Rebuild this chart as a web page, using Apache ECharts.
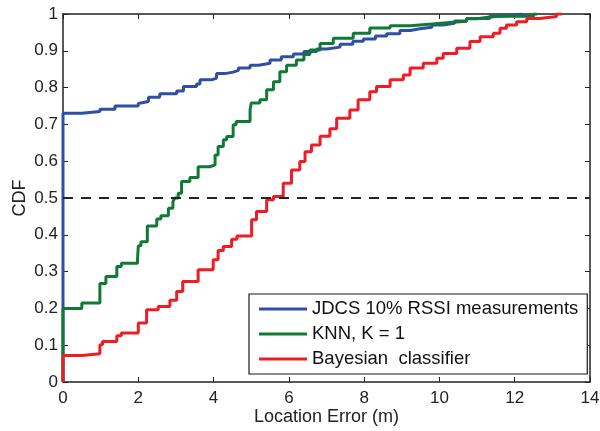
<!DOCTYPE html>
<html>
<head>
<meta charset="utf-8">
<script src="https://cdn.jsdelivr.net/npm/echarts@6/dist/echarts.min.js"></script>
<style>html,body{margin:0;padding:0;background:#fff}#c{width:600px;height:431px}</style>
</head>
<body>
<div id="c"></div>
<script>
var seriesNames = ['JDCS 10% RSSI measurements', 'KNN, K = 1', 'Bayesian  classifier'];
var xTicks = {min: 0, max: 14, interval: 2};
var yTicks = {min: 0, max: 1, interval: 0.1};
var refLevel = 0.5;

var jdcsCdf = [[0,0],[0,0.730],[0.5,0.735],[0.98,0.741],[1.38,0.750],[2.0,0.757],[2.05,0.762],[2.27,0.774],[2.57,0.783],[3.02,0.791],[3.2,0.803],[3.55,0.810],[3.64,0.821],[3.95,0.826],[4.08,0.838],[4.3,0.842],[4.52,0.847],[4.66,0.853],[4.97,0.861],[5.2,0.866],[5.5,0.875],[5.8,0.884],[6.12,0.891],[6.4,0.898],[6.74,0.905],[7.0,0.910],[7.36,0.918],[7.7,0.926],[7.98,0.932],[8.3,0.940],[8.6,0.946],[8.95,0.955],[9.22,0.960],[9.48,0.964],[9.8,0.970],[10.1,0.975],[10.4,0.981],[10.72,0.987],[11.0,0.992],[11.34,0.996],[11.9,1.0],[12.2,1.0]];

var knnCdf = [[0,0],[0,0.200],[0.5,0.215],[0.98,0.268],[1.14,0.287],[1.43,0.314],[1.55,0.323],[1.98,0.335],[2.0,0.370],[2.07,0.381],[2.24,0.424],[2.49,0.443],[2.6,0.452],[2.8,0.472],[2.92,0.490],[2.97,0.500],[3.06,0.513],[3.15,0.545],[3.37,0.556],[3.59,0.585],[3.9,0.590],[4.04,0.617],[4.12,0.640],[4.26,0.658],[4.35,0.667],[4.52,0.699],[4.6,0.708],[4.97,0.740],[5.0,0.758],[5.23,0.767],[5.41,0.794],[5.59,0.816],[5.76,0.843],[5.94,0.861],[6.2,0.875],[6.4,0.890],[6.56,0.902],[6.83,0.920],[7.18,0.934],[7.71,0.948],[8.15,0.962],[8.69,0.968],[9.22,0.973],[9.8,0.977],[10.28,0.980],[10.72,0.988],[11.34,0.994],[12.5,1.0],[12.6,1.0]];

var bayesCdf = [[0,0],[0,0.072],[0.5,0.077],[0.98,0.101],[1.05,0.110],[1.43,0.126],[1.55,0.133],[2.0,0.160],[2.22,0.196],[2.53,0.205],[2.84,0.222],[3.02,0.246],[3.18,0.273],[3.59,0.305],[3.99,0.332],[4.12,0.357],[4.26,0.368],[4.48,0.388],[4.62,0.397],[5.01,0.441],[5.14,0.463],[5.41,0.495],[5.59,0.504],[5.85,0.540],[6.07,0.576],[6.29,0.599],[6.43,0.626],[6.6,0.644],[6.83,0.668],[7.09,0.688],[7.27,0.717],[7.62,0.739],[7.84,0.767],[8.15,0.789],[8.33,0.803],[8.69,0.821],[9.04,0.834],[9.22,0.853],[9.57,0.866],[9.93,0.880],[10.1,0.893],[10.46,0.907],[10.81,0.925],[11.08,0.938],[11.43,0.948],[11.61,0.961],[11.78,0.970],[12.05,0.979],[12.32,0.988],[12.67,0.993],[13.11,1.0],[13.25,1.0]];

var colors = ['#2e4fa5', '#0f7a36', '#ee1c25'];
var font = 'Liberation Sans, Arial, Helvetica, sans-serif';
var axisColor = '#222';

function xAx(pos, showLabel) {
  return {
    type: 'value', position: pos, min: xTicks.min, max: xTicks.max, interval: xTicks.interval,
    axisLine: {show: true, onZero: false, lineStyle: {color: axisColor, width: 1.5}},
    axisTick: {show: true, inside: true, length: 5, lineStyle: {color: axisColor, width: 1}},
    axisLabel: {show: showLabel, color: axisColor, fontFamily: font, fontSize: 17, margin: 8},
    splitLine: {show: false},
    name: showLabel ? 'Location Error (m)' : '', nameLocation: 'middle', nameGap: 26,
    nameMoveOverlap: false,
    nameTextStyle: {color: axisColor, fontFamily: font, fontSize: 18, verticalAlign: 'top'}
  };
}
function yAx(pos, showLabel) {
  return {
    type: 'value', position: pos, min: yTicks.min, max: yTicks.max, interval: yTicks.interval,
    axisLine: {show: true, onZero: false, lineStyle: {color: axisColor, width: 1.5}},
    axisTick: {show: true, inside: true, length: 5, lineStyle: {color: axisColor, width: 1}},
    axisLabel: {show: showLabel, color: axisColor, fontFamily: font, fontSize: 17, margin: 5},
    splitLine: {show: false},
    name: showLabel ? 'CDF' : '', nameLocation: 'middle', nameGap: 34, nameRotate: 90,
    nameMoveOverlap: false,
    nameTextStyle: {color: axisColor, fontFamily: font, fontSize: 18}
  };
}

function mk(name, data, color, withRef) {
  var s = {
    name: name, type: 'line', step: 'end', data: data, showSymbol: false, symbol: 'none',
    lineStyle: {color: color, width: 3}, itemStyle: {color: color}, animation: false, z: 3
  };
  if (withRef) {
    s.markLine = {
      silent: true, symbol: 'none', label: {show: false},
      lineStyle: {color: '#222', width: 2, type: [10, 8]},
      data: [{yAxis: refLevel}], animation: false
    };
  }
  return s;
}

var chart = echarts.init(document.getElementById('c'), null, {renderer: 'canvas'});
chart.setOption({
  animation: false,
  backgroundColor: '#fff',
  grid: {left: 63, right: 10, top: 14, bottom: 49, containLabel: false, outerBoundsMode: 'none'},
  xAxis: [xAx('bottom', true), xAx('top', false)],
  yAxis: [yAx('left', true), yAx('right', false)],
  legend: {
    orient: 'vertical', left: 249, top: 294,
    data: seriesNames,
    icon: 'rect', itemWidth: 48, itemHeight: 3, itemGap: 5,
    padding: [5, 9, 5, 10],
    backgroundColor: '#fff', borderColor: '#1a1a1a', borderWidth: 1.2,
    textStyle: {color: '#111', fontFamily: font, fontSize: 18.5, lineHeight: 20}
  },
  series: [
    mk(seriesNames[0], jdcsCdf, colors[0], true),
    mk(seriesNames[1], knnCdf, colors[1], false),
    mk(seriesNames[2], bayesCdf, colors[2], false)
  ]
});
</script>
</body>
</html>
